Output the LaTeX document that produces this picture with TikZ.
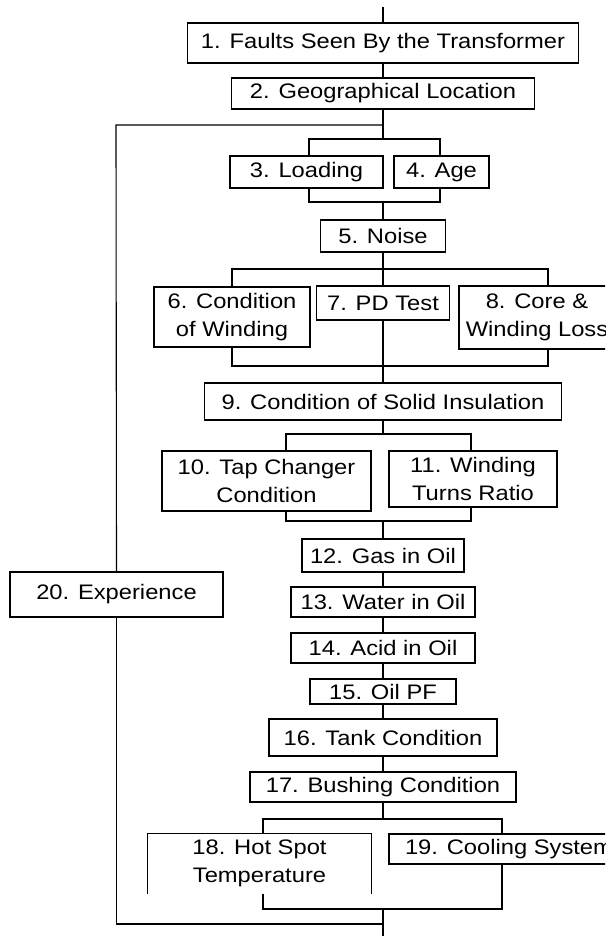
\documentclass[tikz,border=0pt]{standalone}
\usepackage{fontspec}
\setmainfont{Liberation Sans}[FakeStretch=1.13]
\usetikzlibrary{positioning}

\tikzset{
  blk/.style={draw, line width=1.1pt, inner sep=0pt, align=center,
    font=\fontsize{21}{28}\selectfont},
  lnk/.style={line width=1.1pt}
}

\begin{document}
\begin{tikzpicture}[x=1pt, y=-1pt]
  \useasboundingbox (0,0) rectangle (605,936);
  \clip (0,0) rectangle (605,936);

  % boxes
  \node[blk, minimum width=391pt, minimum height=40pt] (faults) at (383,43) {1. Faults Seen By the Transformer};
  \node[blk, minimum width=303pt, minimum height=31pt] (geo) at (383,93.5) {2. Geographical Location};
  \node[blk, minimum width=153pt, minimum height=32pt] (load) at (306.5,172) {3. Loading};
  \node[blk, minimum width=95pt, minimum height=32pt] (age) at (441.5,172) {4. Age};
  \node[blk, minimum width=125pt, minimum height=32pt] (noise) at (383,236) {5. Noise};
  \node[blk, minimum width=156pt, minimum height=60pt] (wind) at (232,317) {6. Condition\\of Winding};
  \node[blk, minimum width=133pt, minimum height=34pt] (pd) at (383,303) {7. PD Test};
  \node[blk, minimum width=156pt, minimum height=63pt] (core) at (537,317.5) {8. Core \&\\Winding Loss};
  \node[blk, minimum width=357pt, minimum height=37pt] (solid) at (383,401.5) {9. Condition of Solid Insulation};
  \node[blk, minimum width=209pt, minimum height=60pt] (tap) at (266.5,481) {10. Tap Changer\\Condition};
  \node[blk, minimum width=168pt, minimum height=56pt] (turns) at (473,479) {11. Winding\\Turns Ratio};
  \node[blk, minimum width=162pt, minimum height=33pt] (gas) at (383,555.5) {12. Gas in Oil};
  \node[blk, minimum width=184pt, minimum height=30pt] (water) at (383,602) {13. Water in Oil};
  \node[blk, minimum width=184pt, minimum height=30pt] (acid) at (383,648) {14. Acid in Oil};
  \node[blk, minimum width=146pt, minimum height=25pt] (oilpf) at (383,691.5) {15. Oil PF};
  \node[blk, minimum width=228pt, minimum height=37pt] (tank) at (383,737.5) {16. Tank Condition};
  \node[blk, minimum width=266pt, minimum height=30pt] (bush) at (383,787) {17. Bushing Condition};
  \node[blk, draw=none, minimum width=223pt, minimum height=59pt] (hot) at (259.5,863.5) {18. Hot Spot\\Temperature};
  \draw[lnk] (hot.south west) -- (hot.north west) -- (hot.north east) -- (hot.south east);
  \node[blk, minimum width=240pt, minimum height=30pt] (cool) at (509,849) {19. Cooling System};
  \node[blk, minimum width=213pt, minimum height=45pt] (exp) at (116.5,594.5) {20. Experience};

  % junction points
  \coordinate (top) at (383,7);
  \coordinate (j2) at (383,125);
  \coordinate (jexp) at (116,125);
  \coordinate (b3) at (309,139);
  \coordinate (b4) at (440,139);
  \coordinate (m3) at (309,202);
  \coordinate (m4) at (440,202);
  \coordinate (b6) at (232,269);
  \coordinate (b8) at (548,269);
  \coordinate (m6) at (232,366);
  \coordinate (m8) at (548,366);
  \coordinate (b10) at (286,434);
  \coordinate (b11) at (471,434);
  \coordinate (m10) at (286,521);
  \coordinate (m11) at (471,521);
  \coordinate (b18) at (263,819);
  \coordinate (b19) at (502,819);
  \coordinate (m18) at (263,909);
  \coordinate (m19) at (502,909);
  \coordinate (back) at (383,924);
  \coordinate (bot) at (383,936);

  % connectors
  \draw[lnk] (top) -- (faults.north);
  \draw[lnk] (faults) -- (geo);
  \draw[lnk] (geo.south) -- (j2 |- b3);
  \draw[lnk] (j2) -- (jexp) -- (exp.north);
  \draw[lnk] (b3 |- load.north) -- (b3) -- (b4) -- (b4 |- age.north);
  \draw[lnk] (m3 |- load.south) -- (m3) -- (m4) -- (m4 |- age.south);
  \draw[lnk] (j2 |- m3) -- (noise.north);
  \draw[lnk] (noise.south) -- (noise.south |- b6);
  \draw[lnk] (wind.north -| b6) -- (b6) -- (b8) -- (core.north -| b8);
  \draw[lnk] (pd.north) -- (pd.north |- b6);
  \draw[lnk] (wind.south -| m6) -- (m6) -- (m8) -- (core.south -| m8);
  \draw[lnk] (pd.south) -- (solid.north);
  \draw[lnk] (solid.south) -- (solid.south |- b10);
  \draw[lnk] (tap.north -| b10) -- (b10) -- (b11) -- (turns.north -| b11);
  \draw[lnk] (tap.south -| m10) -- (m10) -- (m11) -- (turns.south -| m11);
  \draw[lnk] (gas.north |- m10) -- (gas.north);
  \foreach \a/\b in {gas/water, water/acid, acid/oilpf, oilpf/tank, tank/bush}
    \draw[lnk] (\a) -- (\b);
  \draw[lnk] (bush.south) -- (bush.south |- b18);
  \draw[lnk] (hot.north -| b18) -- (b18) -- (b19) -- (cool.north -| b19);
  \draw[lnk] (hot.south -| m18) -- (m18) -- (m19) -- (cool.south -| m19);
  \draw[lnk] (back |- m18) -- (bot);
  \draw[lnk] (exp.south) |- (back);
\end{tikzpicture}
\end{document}
